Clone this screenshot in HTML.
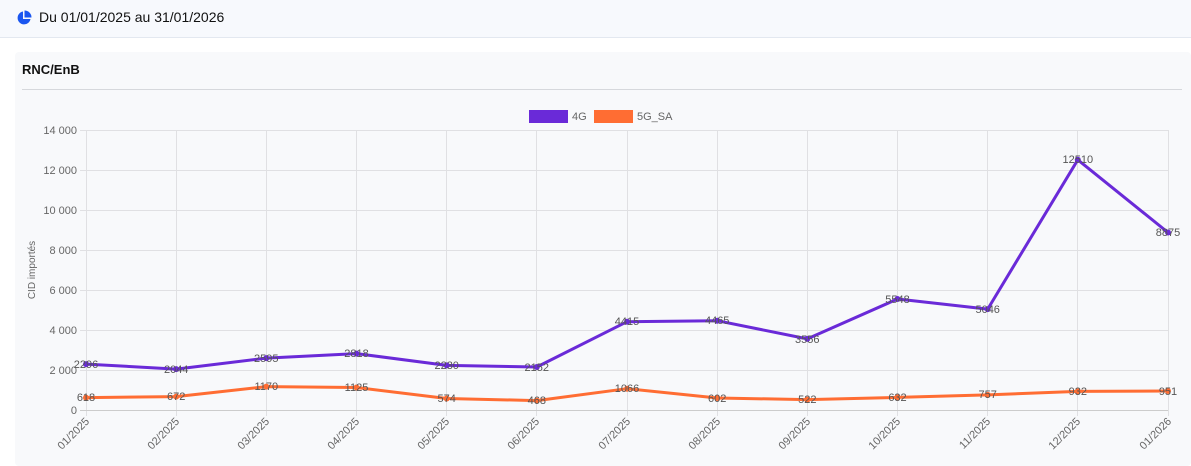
<!DOCTYPE html><html><head><meta charset="utf-8"><style>
body{margin:0;width:1191px;height:466px;background:#fff;font-family:"Liberation Sans",sans-serif;overflow:hidden;position:relative}
.hdr{position:absolute;left:0;top:0;width:1191px;height:37px;background:#f7f9fd;border-bottom:1px solid #e3e8f0}
.hdr span{position:absolute;left:39px;top:9px;font-size:14px;color:#111}
.card{position:absolute;left:15px;top:52px;width:1176px;height:414px;background:#f8f9fb;border-radius:4px}
.ttl{position:absolute;left:22px;top:62px;font-size:13px;font-weight:bold;color:#111}
.div{position:absolute;left:22px;top:89px;width:1160px;height:1px;background:#d6d8dc}
</style></head><body>
<div class="hdr"><svg style="position:absolute;left:16px;top:10px" width="16" height="16" viewBox="0 0 16 16"><path d="M7 1.5A6.5 6.5 0 1 0 14.5 9H7z" fill="#1a56f0"/><path d="M8.5 0.5V7.5H15.5A7 7 0 0 0 8.5 0.5z" fill="#1a56f0"/></svg><span>Du 01/01/2025 au 31/01/2026</span></div>
<div class="card"></div>
<div class="ttl">RNC/EnB</div><div class="div"></div>
<svg style="position:absolute;left:0;top:0" width="1191" height="466" font-family="Liberation Sans, sans-serif" font-size="11" fill="#666">
<rect x="529" y="110" width="39" height="13" fill="#6a2ad8"/><text x="572" y="120">4G</text>
<rect x="594" y="110" width="39" height="13" fill="#ff6d33"/><text x="637" y="120">5G_SA</text>
<g stroke="#e0e0e3" stroke-width="1">
<line x1="80" x2="1168" y1="130.5" y2="130.5"/><line x1="80" x2="1168" y1="170.5" y2="170.5"/><line x1="80" x2="1168" y1="210.5" y2="210.5"/><line x1="80" x2="1168" y1="250.5" y2="250.5"/><line x1="80" x2="1168" y1="290.5" y2="290.5"/><line x1="80" x2="1168" y1="330.5" y2="330.5"/><line x1="80" x2="1168" y1="370.5" y2="370.5"/>
<line x1="86.5" x2="86.5" y1="130" y2="416"/><line x1="176.5" x2="176.5" y1="130" y2="416"/><line x1="266.5" x2="266.5" y1="130" y2="416"/><line x1="356.5" x2="356.5" y1="130" y2="416"/><line x1="446.5" x2="446.5" y1="130" y2="416"/><line x1="536.5" x2="536.5" y1="130" y2="416"/><line x1="627.5" x2="627.5" y1="130" y2="416"/><line x1="717.5" x2="717.5" y1="130" y2="416"/><line x1="807.5" x2="807.5" y1="130" y2="416"/><line x1="897.5" x2="897.5" y1="130" y2="416"/><line x1="987.5" x2="987.5" y1="130" y2="416"/><line x1="1077.5" x2="1077.5" y1="130" y2="416"/><line x1="1168.5" x2="1168.5" y1="130" y2="416"/>
</g>
<line x1="80" x2="1168" y1="410.5" y2="410.5" stroke="#ccc"/>
<g text-anchor="end"><text x="77" y="134">14 000</text><text x="77" y="174">12 000</text><text x="77" y="214">10 000</text><text x="77" y="254">8 000</text><text x="77" y="294">6 000</text><text x="77" y="334">4 000</text><text x="77" y="374">2 000</text><text x="77" y="414">0</text></g>
<text transform="translate(35,270) rotate(-90)" text-anchor="middle" font-size="10">CID importés</text>
<g text-anchor="end">
<text transform="translate(90,422) rotate(-45)">01/2025</text><text transform="translate(180,422) rotate(-45)">02/2025</text><text transform="translate(270,422) rotate(-45)">03/2025</text><text transform="translate(360,422) rotate(-45)">04/2025</text><text transform="translate(450,422) rotate(-45)">05/2025</text><text transform="translate(540,422) rotate(-45)">06/2025</text><text transform="translate(631,422) rotate(-45)">07/2025</text><text transform="translate(721,422) rotate(-45)">08/2025</text><text transform="translate(811,422) rotate(-45)">09/2025</text><text transform="translate(901,422) rotate(-45)">10/2025</text><text transform="translate(991,422) rotate(-45)">11/2025</text><text transform="translate(1081,422) rotate(-45)">12/2025</text><text transform="translate(1172,422) rotate(-45)">01/2026</text>
</g>
<polyline fill="none" stroke="#6a2ad8" stroke-width="3" stroke-linejoin="round" points="86,364.1 176.2,369.1 266.3,358.1 356.5,353.6 446.7,365.4 536.8,367 627,321.7 717.2,320.7 807.3,338.9 897.5,299 987.7,309.1 1077.8,159.8 1168,232.5"/>
<polyline fill="none" stroke="#ff6d33" stroke-width="3" stroke-linejoin="round" points="86,397.6 176.2,396.6 266.3,386.6 356.5,387.5 446.7,398.5 536.8,400.6 627,388.7 717.2,398 807.3,399.6 897.5,397.4 987.7,394.9 1077.8,391.4 1168,391"/>
<g fill="#6a2ad8"><circle cx="86" cy="364.1" r="3"/><circle cx="176.2" cy="369.1" r="3"/><circle cx="266.3" cy="358.1" r="3"/><circle cx="356.5" cy="353.6" r="3"/><circle cx="446.7" cy="365.4" r="3"/><circle cx="536.8" cy="367" r="3"/><circle cx="627" cy="321.7" r="3"/><circle cx="717.2" cy="320.7" r="3"/><circle cx="807.3" cy="338.9" r="3"/><circle cx="897.5" cy="299" r="3"/><circle cx="987.7" cy="309.1" r="3"/><circle cx="1077.8" cy="159.8" r="3"/><circle cx="1168" cy="232.5" r="3"/></g>
<g fill="#ff6d33"><circle cx="86" cy="397.6" r="3"/><circle cx="176.2" cy="396.6" r="3"/><circle cx="266.3" cy="386.6" r="3"/><circle cx="356.5" cy="387.5" r="3"/><circle cx="446.7" cy="398.5" r="3"/><circle cx="536.8" cy="400.6" r="3"/><circle cx="627" cy="388.7" r="3"/><circle cx="717.2" cy="398" r="3"/><circle cx="807.3" cy="399.6" r="3"/><circle cx="897.5" cy="397.4" r="3"/><circle cx="987.7" cy="394.9" r="3"/><circle cx="1077.8" cy="391.4" r="3"/><circle cx="1168" cy="391" r="3"/></g>
<g text-anchor="middle" fill="#555">
<text x="86" y="368">2296</text><text x="176.2" y="373">2044</text><text x="266.3" y="362">2595</text><text x="356.5" y="357">2818</text><text x="446.7" y="369">2230</text><text x="536.8" y="371">2152</text><text x="627" y="325">4415</text><text x="717.2" y="324">4465</text><text x="807.3" y="343">3556</text><text x="897.5" y="303">5548</text><text x="987.7" y="313">5046</text><text x="1077.8" y="163">12510</text><text x="1168" y="236">8875</text>
<text x="86" y="401">618</text><text x="176.2" y="400">672</text><text x="266.3" y="390">1170</text><text x="356.5" y="391">1125</text><text x="446.7" y="402">574</text><text x="536.8" y="404">468</text><text x="627" y="392">1066</text><text x="717.2" y="402">602</text><text x="807.3" y="403">522</text><text x="897.5" y="401">632</text><text x="987.7" y="398">757</text><text x="1077.8" y="395">932</text><text x="1168" y="395">951</text>
</g>
</svg>
</body></html>
